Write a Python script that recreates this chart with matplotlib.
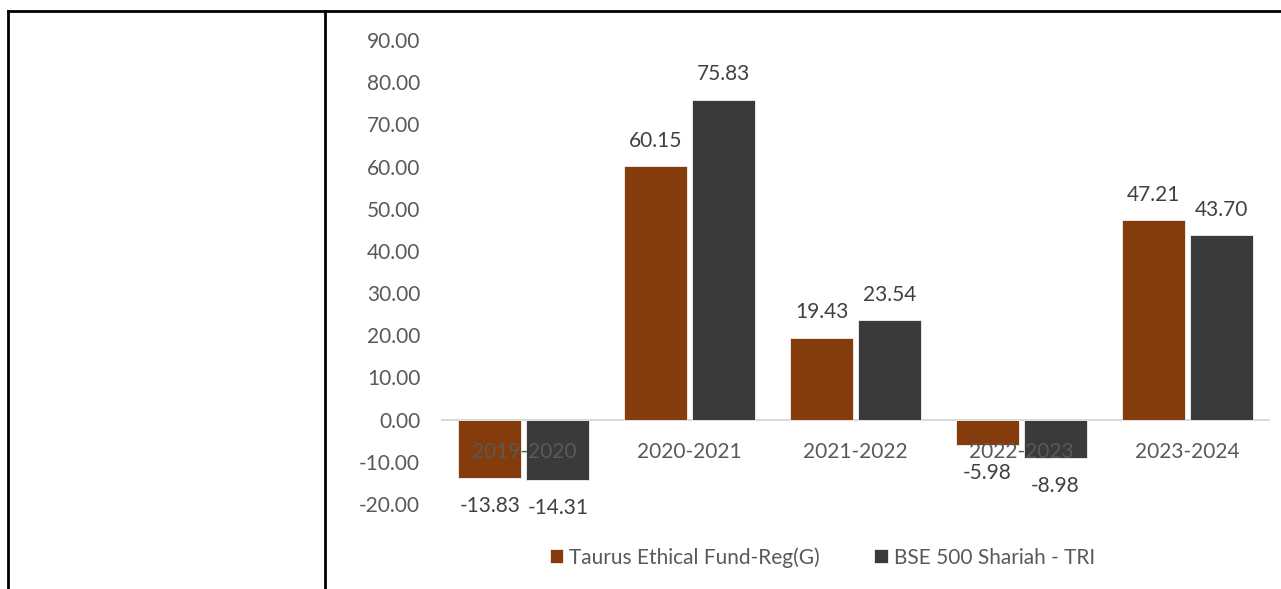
import matplotlib.pyplot as plt
from matplotlib.lines import Line2D
import numpy as np

plt.rcParams['font.family'] = ['Lato', 'DejaVu Sans']

years = ['2019-2020', '2020-2021', '2021-2022', '2022-2023', '2023-2024']
fund = [-13.83, 60.15, 19.43, -5.98, 47.21]
bench = [-14.31, 75.83, 23.54, -8.98, 43.70]
names = ['Taurus Ethical Fund-Reg(G)', 'BSE 500 Shariah - TRI']
colors = ['#843C0C', '#3A3A3A']

W, H = 1281, 589
fig = plt.figure(figsize=(W / 100, H / 100), dpi=100)
ax = fig.add_axes([441 / W, 1 - 504 / H, (1270 - 441) / W, (504 - 40) / H])

x = np.arange(len(years))
bw = 0.38
for i, (vals, c) in enumerate(zip([fund, bench], colors)):
    pos = x + (i - 0.5) * 0.41
    ax.bar(pos, vals, bw, color=c, label=names[i], zorder=2,
           edgecolor='#F2F2F2', linewidth=0.6)
    for p, v in zip(pos, vals):
        off = 11 if v >= 0 else -13
        ax.annotate(f'{v:.2f}', (p, v), xytext=(0, off), textcoords='offset points',
                    ha='center', va='bottom' if v >= 0 else 'top',
                    fontsize=15, color='#404040')

ax.axhline(0, color='#D9D9D9', lw=1.5, zorder=1)
for xi, lab in zip(x, years):
    ax.annotate(lab, (xi, 0), xytext=(0, -32), textcoords='offset pixels',
                ha='center', va='center', fontsize=15, color='#595959', zorder=3)

ax.set_xlim(-0.5, len(years) - 0.5)
ax.set_ylim(-20, 90)
ax.set_yticks(np.arange(-20, 91, 10))
ax.set_yticklabels([f'{t:.2f}' for t in np.arange(-20, 91, 10)])
ax.tick_params(axis='y', length=0, pad=15, labelsize=15, labelcolor='#595959')
ax.set_xticks([])
for s in ax.spines.values():
    s.set_visible(False)

ax.legend(loc='center', bbox_to_anchor=(0.46, -0.115), ncol=2, frameon=False,
          fontsize=15, labelcolor='#595959', handlelength=0.65, handleheight=0.65,
          handletextpad=0.3, columnspacing=2.6)

# table borders around the chart
lk = dict(color='black', lw=2, transform=fig.transFigure)
fig.add_artist(Line2D([8 / W, 8 / W], [1 - 11 / H, 0], **lk))
fig.add_artist(Line2D([325 / W, 325 / W], [1 - 11 / H, 0], **lk))
fig.add_artist(Line2D([8 / W, 1], [1 - 11 / H, 1 - 11 / H], **lk))

fig.savefig('out.png', dpi=100)
